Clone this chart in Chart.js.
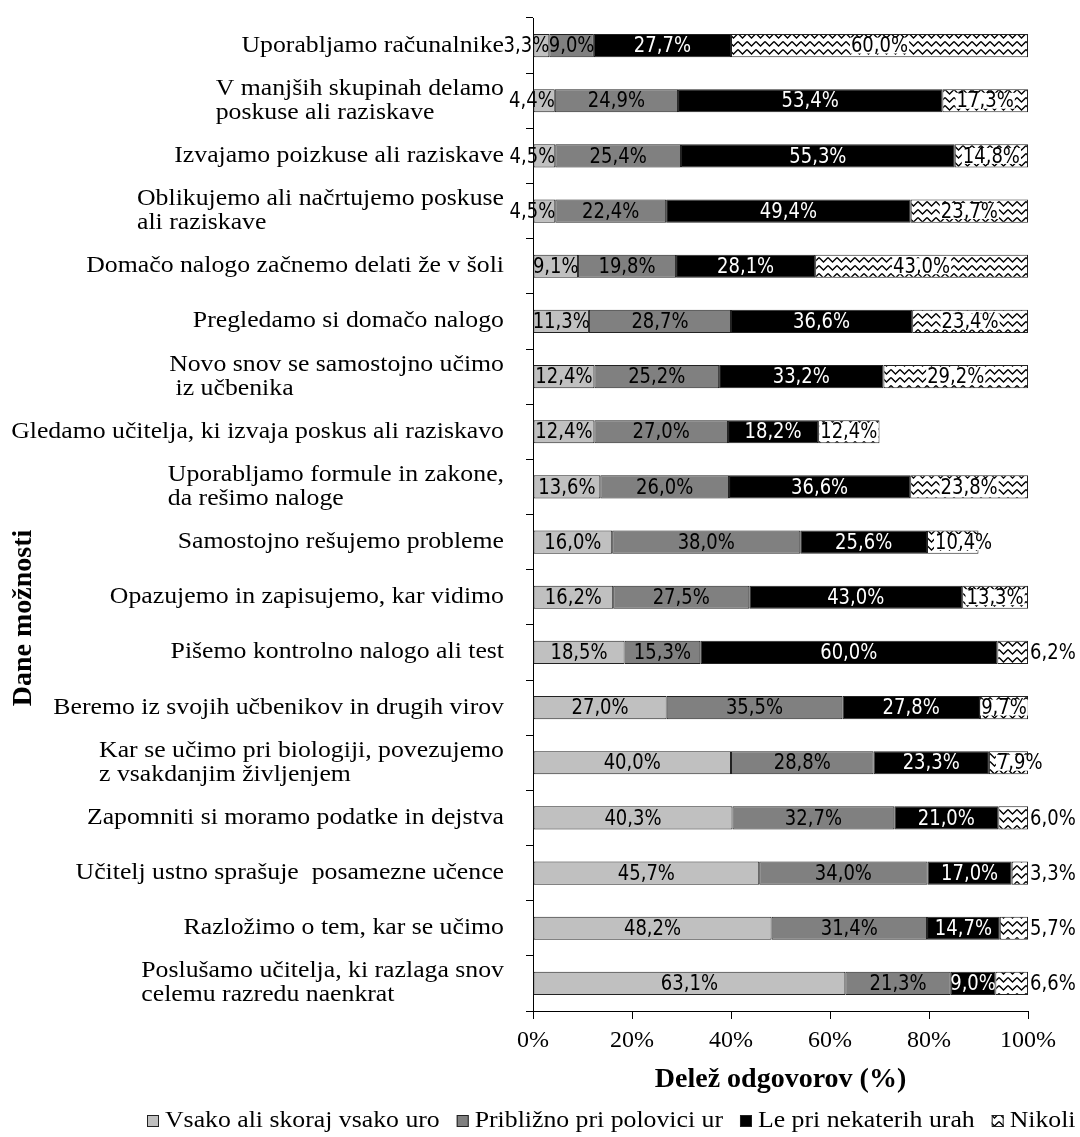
<!DOCTYPE html>
<html>
<head>
<meta charset="utf-8">
<title>Dane možnosti</title>
<script src="https://cdn.jsdelivr.net/npm/chart.js@4.4.1/dist/chart.umd.min.js"></script>
<style>
  html, body { margin: 0; padding: 0; background: #fff; }
  canvas { display: block; }
</style>
</head>
<body>
<canvas id="chart" width="1080" height="1137"></canvas>
<script>
const categories = [
  "Uporabljamo računalnike",
  ["V manjših skupinah delamo", "poskuse ali raziskave"],
  "Izvajamo poizkuse ali raziskave",
  ["Oblikujemo ali načrtujemo poskuse", "ali raziskave"],
  "Domačo nalogo začnemo delati že v šoli",
  "Pregledamo si domačo nalogo",
  ["Novo snov se samostojno učimo", " iz učbenika"],
  "Gledamo učitelja, ki izvaja poskus ali raziskavo",
  ["Uporabljamo formule in zakone,", "da rešimo naloge"],
  "Samostojno rešujemo probleme",
  "Opazujemo in zapisujemo, kar vidimo",
  "Pišemo kontrolno nalogo ali test",
  "Beremo iz svojih učbenikov in drugih virov",
  ["Kar se učimo pri biologiji, povezujemo", "z vsakdanjim življenjem"],
  "Zapomniti si moramo podatke in dejstva",
  "Učitelj ustno sprašuje  posamezne učence",
  "Razložimo o tem, kar se učimo",
  ["Poslušamo učitelja, ki razlaga snov", "celemu razredu naenkrat"]
];

const seriesNames = [
  "Vsako ali skoraj vsako uro",
  "Približno pri polovici ur",
  "Le pri nekaterih urah",
  "Nikoli"
];

const everyLesson = [3.3, 4.4, 4.5, 4.5, 9.1, 11.3, 12.4, 12.4, 13.6, 16.0, 16.2, 18.5, 27.0, 40.0, 40.3, 45.7, 48.2, 63.1];
const halfLessons = [9.0, 24.9, 25.4, 22.4, 19.8, 28.7, 25.2, 27.0, 26.0, 38.0, 27.5, 15.3, 35.5, 28.8, 32.7, 34.0, 31.4, 21.3];
const someLessons = [27.7, 53.4, 55.3, 49.4, 28.1, 36.6, 33.2, 18.2, 36.6, 25.6, 43.0, 60.0, 27.8, 23.3, 21.0, 17.0, 14.7, 9.0];
const neverLessons = [60.0, 17.3, 14.8, 23.7, 43.0, 23.4, 29.2, 12.4, 23.8, 10.4, 13.3, 6.2, 9.7, 7.9, 6.0, 3.3, 5.7, 6.6];

const xTicks = [0, 20, 40, 60, 80, 100];

const SERIF = "'Liberation Serif', 'Times New Roman', serif";
const STRETCH = 1.12;

const canvas = document.getElementById("chart");
const ctx2d = canvas.getContext("2d");

// white tile with a black zigzag, used for "Nikoli"
function zigzagPattern(ctx) {
  const tile = document.createElement("canvas");
  tile.width = 9;
  tile.height = 8;
  const t = tile.getContext("2d");
  t.fillStyle = "#fff";
  t.fillRect(0, 0, 9, 8);
  t.strokeStyle = "#000";
  t.lineWidth = 1.3;
  t.beginPath();
  t.moveTo(0, 1.5);
  t.lineTo(4.5, 6);
  t.lineTo(9, 1.5);
  t.stroke();
  return ctx.createPattern(tile, "repeat");
}

const zigzag = zigzagPattern(ctx2d);
const fills = ["#c0c0c0", "#808080", "#000000", zigzag];
const seriesData = [everyLesson, halfLessons, someLessons, neverLessons];

function fmt(v) {
  return v.toFixed(1).replace(".", ",") + "%";
}

// percentages written on the segments
const valueLabels = {
  id: "valueLabels",
  afterDatasetsDraw(chart) {
    const ctx = chart.ctx;
    const last = chart.data.datasets.length - 1;
    ctx.save();
    ctx.font = "18px 'DejaVu Sans'";
    ctx.textBaseline = "middle";
    ctx.textAlign = "left";
    chart.data.datasets.forEach((ds, di) => {
      const meta = chart.getDatasetMeta(di);
      meta.data.forEach((bar, i) => {
        const text = fmt(ds.data[i]);
        const w = ctx.measureText(text).width;
        const left = Math.min(bar.x, bar.base);
        const right = Math.max(bar.x, bar.base);
        const segW = right - left;
        let x0 = (left + right) / 2 - w / 2;
        if (w > segW + 4) {
          if (di === 0) x0 = right - w;
          else if (di === last) x0 = segW < 36 ? right + 2 : left + 8;
        }
        if (di === last) {
          ctx.fillStyle = "#fff";
          ctx.fillRect(x0 - 1, bar.y - 8, w + 2, 16);
        }
        ctx.fillStyle = di === 2 ? "#fff" : "#000";
        ctx.save();
        ctx.translate(x0, bar.y + 1);
        ctx.scale(1, 1.2);
        ctx.fillText(text, 0, 0);
        ctx.restore();
      });
    });
    ctx.restore();
  }
};

// category names (left-aligned blocks), vertical title and legend
const sideText = {
  id: "sideText",
  afterDraw(chart) {
    const ctx = chart.ctx;
    const yScale = chart.scales.y;
    const rightEdge = chart.chartArea.left - 29;

    ctx.save();
    ctx.fillStyle = "#000";
    ctx.textBaseline = "middle";
    ctx.textAlign = "left";
    ctx.font = "23px " + SERIF;
    chart.data.labels.forEach((label, i) => {
      const lines = Array.isArray(label) ? label : [label];
      const blockW = Math.max(...lines.map(l => ctx.measureText(l).width * STRETCH));
      const yc = yScale.getPixelForTick(i);
      lines.forEach((line, k) => {
        const ly = yc + (k - (lines.length - 1) / 2) * 24;
        ctx.save();
        ctx.translate(rightEdge - blockW, ly);
        ctx.scale(STRETCH, 1);
        ctx.fillText(line, 0, 0);
        ctx.restore();
      });
    });

    ctx.save();
    ctx.font = "bold 28px " + SERIF;
    ctx.textAlign = "center";
    ctx.translate(24, 618);
    ctx.rotate(-Math.PI / 2);
    ctx.fillText("Dane možnosti", 0, 0);
    ctx.restore();

    // legend row
    let x = 147;
    const ly = 1121;
    chart.data.datasets.forEach(ds => {
      ctx.fillStyle = ds.backgroundColor;
      ctx.fillRect(x, ly - 6, 12, 12);
      ctx.strokeStyle = "#222";
      ctx.lineWidth = 1;
      ctx.strokeRect(x + 0.5, ly - 5.5, 11, 11);
      ctx.fillStyle = "#000";
      ctx.save();
      ctx.translate(x + 18, ly);
      ctx.scale(STRETCH, 1);
      ctx.fillText(ds.label, 0, 0);
      ctx.restore();
      x += 18 + ctx.measureText(ds.label).width * STRETCH + 17;
    });
    ctx.restore();
  }
};

new Chart(canvas, {
  type: "bar",
  data: {
    labels: categories,
    datasets: seriesNames.map((name, i) => ({
      label: name,
      data: seriesData[i],
      backgroundColor: fills[i],
      borderColor: "#222",
      borderWidth: 1,
      borderSkipped: false,
      barPercentage: 0.42,
      categoryPercentage: 1
    }))
  },
  options: {
    indexAxis: "y",
    responsive: false,
    devicePixelRatio: 1,
    animation: false,
    layout: { padding: { left: 0, right: 52, top: 18, bottom: 0 } },
    plugins: {
      legend: { display: false },
      tooltip: { enabled: false }
    },
    scales: {
      x: {
        stacked: true,
        min: 0,
        max: 100,
        afterBuildTicks: s => { s.ticks = xTicks.map(v => ({ value: v })); },
        afterFit: s => { s.height = 126; },
        grid: { drawOnChartArea: false, drawTicks: true, tickLength: 8, color: "#000" },
        border: { display: true, color: "#000", width: 1 },
        ticks: {
          color: "#000",
          padding: 7,
          maxRotation: 0,
          autoSkip: false,
          font: { family: SERIF, size: 24 },
          callback: v => v + "%"
        },
        title: {
          display: true,
          text: "Delež odgovorov (%)",
          color: "#000",
          font: { family: SERIF, size: 28, weight: "bold" },
          padding: { top: 0, bottom: 40 }
        }
      },
      y: {
        stacked: true,
        offset: true,
        afterFit: s => { s.width = 533; },
        grid: { offset: true, drawOnChartArea: false, drawTicks: true, tickLength: 7, color: "#000" },
        border: { display: true, color: "#000", width: 1 },
        ticks: { display: false }
      }
    }
  },
  plugins: [valueLabels, sideText]
});
</script>
</body>
</html>
